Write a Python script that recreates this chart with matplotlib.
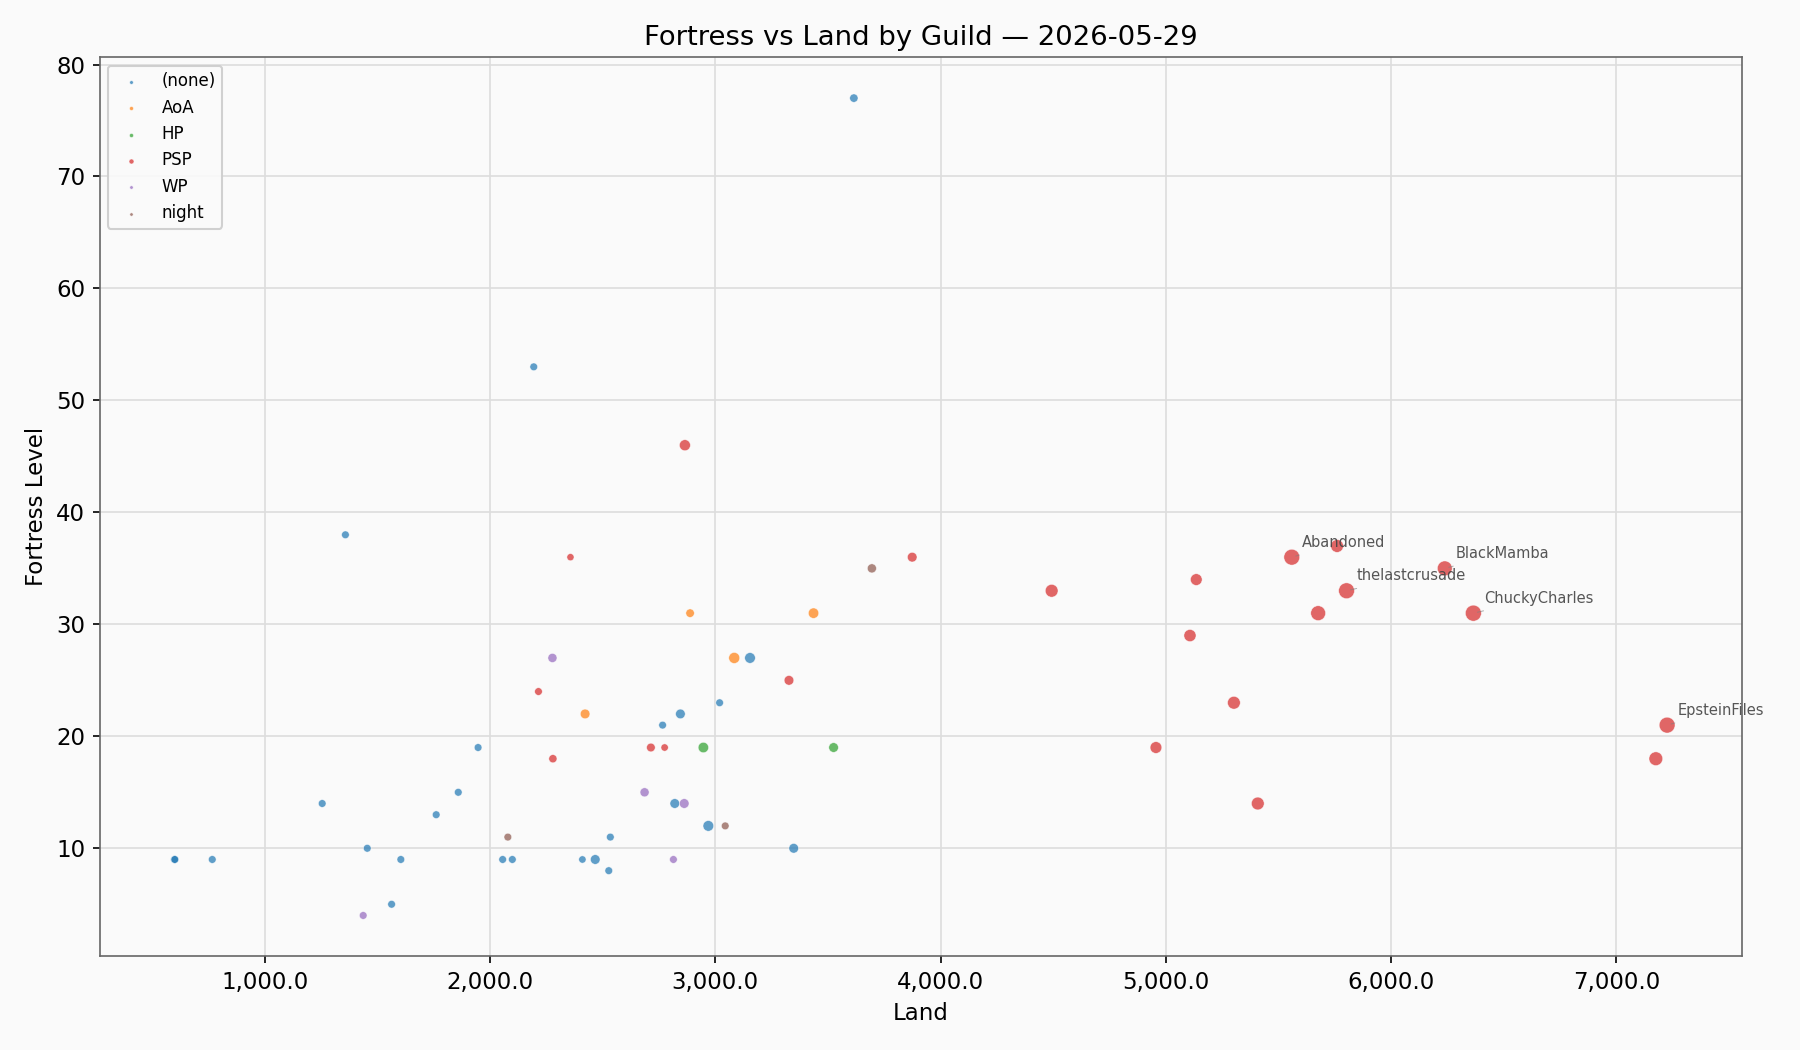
import numpy as np
import matplotlib
matplotlib.use("Agg")
import matplotlib.pyplot as plt
from matplotlib.ticker import StrMethodFormatter

plt.rcParams["font.size"] = 11

# data (land, fortress level, relative power -> marker area)
guilds = ["(none)", "AoA", "HP", "PSP", "WP", "night"]
colors = ["tab:blue", "tab:orange", "tab:green", "tab:red", "tab:purple", "tab:brown"]

none_land = [599, 601, 767, 1255, 1358, 1455, 1563, 1604, 1761, 1859, 1947, 2056, 2099,
             2194, 2410, 2467, 2527, 2534, 2766, 2820, 2845, 2969, 3019, 3154, 3348, 3615]
none_fort = [9, 9, 9, 14, 38, 10, 5, 9, 13, 15, 19, 9, 9,
             53, 9, 9, 8, 11, 21, 14, 22, 12, 23, 27, 10, 77]
none_power = [16, 16, 16, 16, 16, 16, 16, 16, 16, 16, 16, 16, 16,
              16, 14, 29, 16, 16, 16, 29, 29, 37, 16, 37, 29, 20]

aoa_land = [2422, 2888, 3084, 3436]
aoa_fort = [22, 31, 27, 31]
aoa_power = [29, 21, 40, 35]

hp_land = [2947, 3525]
hp_fort = [19, 19]
hp_power = [35, 29]

psp_land = [2215, 2279, 2357, 2714, 2775, 2865, 3327, 3874, 4493, 4956, 5107, 5135,
            5302, 5408, 5559, 5676, 5760, 5802, 6238, 6365, 7175, 7225]
psp_fort = [24, 18, 36, 19, 19, 46, 25, 36, 33, 19, 29, 34,
            23, 14, 36, 31, 37, 33, 35, 31, 18, 21]
psp_power = [16, 19, 13, 22, 14, 40, 29, 29, 56, 46, 50, 46,
             56, 56, 90, 78, 56, 90, 78, 92, 66, 90]

wp_land = [1437, 2277, 2686, 2814, 2862]
wp_fort = [4, 27, 15, 9, 14]
wp_power = [16, 25, 25, 16, 29]

night_land = [2079, 3044, 3695]
night_fort = [11, 12, 35]
night_power = [16, 16, 25]

labels = ["Abandoned", "thelastcrusade", "BlackMamba", "ChuckyCharles", "EpsteinFiles"]
label_land = [5559, 5802, 6238, 6365, 7225]
label_fort = [36, 33, 35, 31, 21]

series = [
    (none_land, none_fort, none_power),
    (aoa_land, aoa_fort, aoa_power),
    (hp_land, hp_fort, hp_power),
    (psp_land, psp_fort, psp_power),
    (wp_land, wp_fort, wp_power),
    (night_land, night_fort, night_power),
]

bg = "#fafafa"
fig, ax = plt.subplots(figsize=(12, 7), dpi=150)
fig.patch.set_facecolor(bg)
ax.set_facecolor(bg)

for name, col, (x, y, p) in zip(guilds, colors, series):
    ax.scatter(x, y, s=4 + np.array(p) * 0.6, c=col, alpha=0.7,
               edgecolors="white", linewidths=0.3, label=name, zorder=3)

for name, x, y in zip(labels, label_land, label_fort):
    ax.annotate(name, (x, y), xytext=(5, 5), textcoords="offset points",
                fontsize=7, color="#444444", alpha=0.9,
                arrowprops=dict(arrowstyle="-", color="gray", lw=0.5, alpha=0.6))

ax.set_title("Fortress vs Land by Guild \u2014 2026-05-29")
ax.set_xlabel("Land")
ax.set_ylabel("Fortress Level")
ax.xaxis.set_major_formatter(StrMethodFormatter("{x:,.1f}"))
ax.grid(True, color="#dddddd", linewidth=0.8, zorder=0)
ax.set_axisbelow(True)
for sp in ax.spines.values():
    sp.set_color("#666666")

leg = ax.legend(loc="upper left", fontsize=8, markerscale=0.4, scatterpoints=1,
                framealpha=0.9, facecolor=bg)

plt.tight_layout()
plt.savefig("out.png", dpi=150, facecolor=bg)
